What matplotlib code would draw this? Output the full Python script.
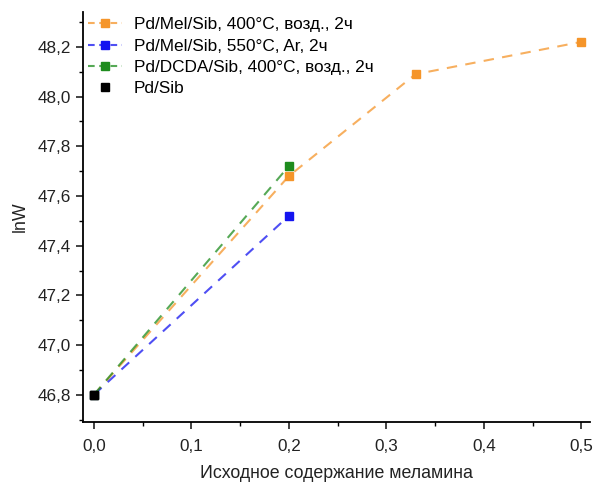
import matplotlib
matplotlib.use("Agg")
import matplotlib.pyplot as plt
from matplotlib.ticker import MultipleLocator, FuncFormatter
from matplotlib.colors import to_rgba

plt.rcParams['font.family'] = ['Liberation Sans', 'DejaVu Sans']

labels = ["Pd/Mel/Sib, 400°C, возд., 2ч", "Pd/Mel/Sib, 550°C, Ar, 2ч",
          "Pd/DCDA/Sib, 400°C, возд., 2ч", "Pd/Sib"]
x_orange = [0.0, 0.2, 0.33, 0.5]
y_orange = [46.80, 47.68, 48.09, 48.22]
x_blue = [0.0, 0.2]
y_blue = [46.80, 47.52]
x_green = [0.0, 0.2]
y_green = [46.80, 47.72]
x_black = [0.0]
y_black = [46.80]

colors = ["#F5952A", "#1414F0", "#1E8C1E", "#000000"]

fig = plt.figure(figsize=(5.96, 4.83), dpi=100)
ax = fig.add_axes([0.139, 0.126, 0.851, 0.849])

def draw(x, y, c, lab, line=True):
    lc = to_rgba(c, 0.75)
    if line:
        ax.plot(x, y, ls=(0, (5, 4)), color=lc, lw=1.5)
    ax.plot(x, y, ls='none', marker='s', ms=5.5, color=c)
    ax.plot([], [], ls=(0, (3.2, 2.2)) if line else 'none', color=lc, lw=1.5,
            marker='s', ms=5.5, mfc=c, mec=c, label=lab)

draw(x_orange, y_orange, colors[0], labels[0])
draw(x_blue, y_blue, colors[1], labels[1])
draw(x_green, y_green, colors[2], labels[2])
draw(x_black, y_black, colors[3], labels[3], line=False)

ax.set_xlim(-0.0113, 0.509)
ax.set_ylim(46.69, 48.34)
ax.xaxis.set_major_locator(MultipleLocator(0.1))
ax.xaxis.set_minor_locator(MultipleLocator(0.05))
ax.yaxis.set_major_locator(MultipleLocator(0.2))
ax.yaxis.set_minor_locator(MultipleLocator(0.1))
ax.xaxis.set_major_formatter(FuncFormatter(lambda v, p: f"{v:.1f}".replace('.', ',')))
ax.yaxis.set_major_formatter(FuncFormatter(lambda v, p: f"{v:.1f}".replace('.', ',')))
for s in ['top', 'right']:
    ax.spines[s].set_visible(False)
for s in ['left', 'bottom']:
    ax.spines[s].set_linewidth(1.3)
ax.tick_params(which='major', direction='out', length=5, width=1.2, labelsize=12.3, colors='#222222')
ax.tick_params(axis='x', which='major', pad=7)
ax.tick_params(which='minor', direction='out', length=3, width=1.0)
ax.set_xlabel("Исходное содержание меламина", fontsize=12.8, color='#222222', labelpad=8)
ax.set_ylabel("lnW", fontsize=12.8, color='#222222', labelpad=6)
ax.legend(loc='upper left', frameon=False, fontsize=12.4, handlelength=2.0,
          borderaxespad=0.1, labelspacing=0.36, handletextpad=0.65,
          borderpad=0.2, bbox_to_anchor=(0.0, 1.0))

fig.savefig("out.png", dpi=100)
